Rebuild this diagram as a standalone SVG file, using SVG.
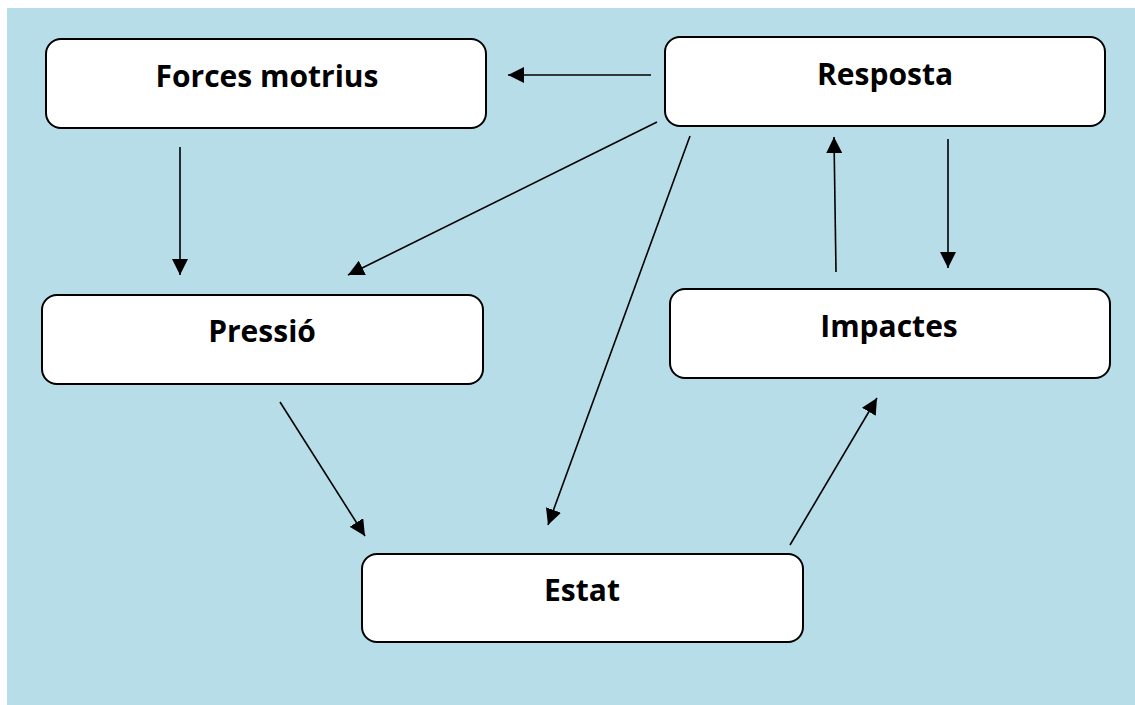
<svg xmlns="http://www.w3.org/2000/svg" width="1135" height="705" viewBox="0 0 1135 705">
<defs>
<style>
.node rect{fill:#ffffff;stroke:#000000;stroke-width:2}
.node text{font-family:"Open Sans","Liberation Sans",sans-serif;font-weight:bold;font-size:30px;fill:#000;text-anchor:middle}
.conn line{stroke:#000;stroke-width:1.6;marker-end:url(#ah)}
</style>
<marker id="ah" viewBox="0 0 10 10" refX="10" refY="5" markerWidth="16" markerHeight="16" markerUnits="userSpaceOnUse" orient="auto">
<path d="M0,0 L10,5 L0,10 z" fill="#000"/>
</marker>
</defs>
<rect x="0" y="0" width="1135" height="705" fill="#ffffff"/>
<rect x="7" y="8" width="1128" height="697" fill="#b7dde8"/>
<g id="forces" class="node">
<rect x="46" y="39" width="440" height="89" rx="15"/>
<text x="267" y="87">Forces motrius</text>
</g>
<g id="resposta" class="node">
<rect x="665" y="37" width="440" height="89" rx="15"/>
<text x="885" y="85">Resposta</text>
</g>
<g id="pressio" class="node">
<rect x="42" y="295" width="441" height="89" rx="15"/>
<text x="262" y="342">Pressió</text>
</g>
<g id="impactes" class="node">
<rect x="670" y="289" width="440" height="89" rx="15"/>
<text x="889" y="337">Impactes</text>
</g>
<g id="estat" class="node">
<rect x="362" y="554" width="441" height="88" rx="15"/>
<text x="582" y="601">Estat</text>
</g>
<g id="connectors" class="conn">
<line x1="651" y1="75" x2="508" y2="75"/>
<line x1="657" y1="122" x2="348" y2="275"/>
<line x1="690" y1="136" x2="548" y2="525"/>
<line x1="180" y1="147" x2="180" y2="275"/>
<line x1="280" y1="402" x2="365" y2="536"/>
<line x1="790" y1="545" x2="877" y2="398"/>
<line x1="836" y1="272" x2="834" y2="137"/>
<line x1="948" y1="139" x2="948" y2="268"/>
</g>
</svg>
